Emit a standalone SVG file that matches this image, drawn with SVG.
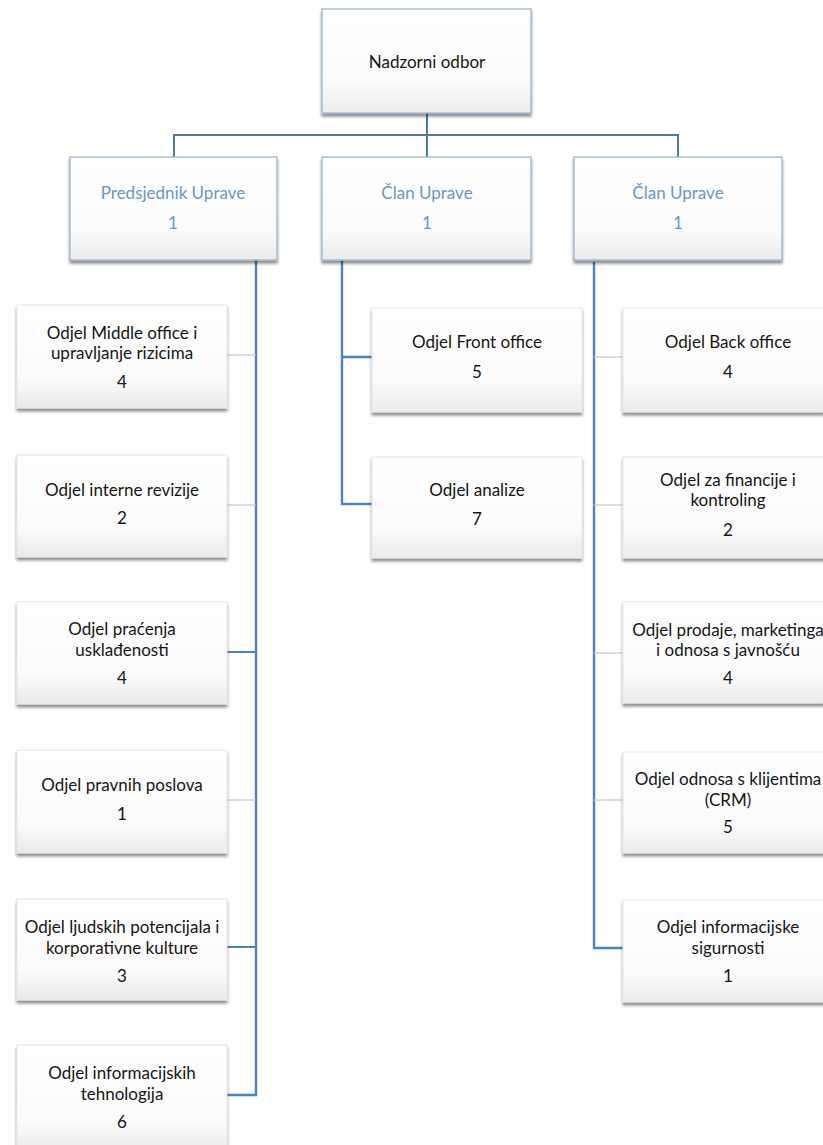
<svg xmlns="http://www.w3.org/2000/svg" width="823" height="1145" viewBox="0 0 823 1145">
<defs>
<linearGradient id="g" x1="0" y1="0" x2="0" y2="1">
<stop offset="0" stop-color="#ffffff"/>
<stop offset="0.7" stop-color="#fbfbfb"/>
<stop offset="1" stop-color="#ebebeb"/>
</linearGradient>
<filter id="sh" x="-10%" y="-10%" width="125%" height="130%">
<feGaussianBlur in="SourceAlpha" stdDeviation="1.6"/>
<feOffset dx="0" dy="2.5" result="b"/>
<feComponentTransfer><feFuncA type="linear" slope="0.45"/></feComponentTransfer>
<feMerge><feMergeNode/><feMergeNode in="SourceGraphic"/></feMerge>
</filter>
<style>
.box{fill:url(#g);filter:url(#sh);stroke:#e6e6e6;stroke-width:1}
.lvl{fill:url(#g);filter:url(#sh);stroke:#9fb6cc;stroke-width:1.3}
.t{font-family:Lato,"Liberation Sans",sans-serif;font-size:17px;fill:#151515;text-anchor:middle}
.b{font-family:Lato,"Liberation Sans",sans-serif;font-size:17px;fill:#6b98c0;text-anchor:middle}
.main{fill:none;stroke:#4a82bf;stroke-width:2.4}
.top{fill:none;stroke:#4c7aa3;stroke-width:2}
.thin{fill:none;stroke:#a8c0da;stroke-width:1}
</style>
</defs>
<rect width="823" height="1145" fill="#ffffff"/>
<g id="connectors">
<path class="top" d="M427 113 V157 M174 157 V135 H678 V157"/>
<path class="main" d="M256 260 V1095 H227"/>
<path class="main" d="M342 260 V504 H372 M342 357 H372"/>
<path class="main" d="M594 262 V948 H623"/>
<path class="thin" d="M227 355 H256 M227 505 H256 M227 800 H256 M593 357 H623 M593 505 H623 M593 653 H623 M593 800 H623"/>
<path class="main" style="stroke-width:1.8" d="M227 652 H256 M227 947 H256"/>
</g>
<g id="n-nadzorni"><rect class="lvl" x="322" y="9" width="209" height="104"/><text class="t" x="427" y="68">Nadzorni odbor</text></g>
<g id="n-predsjednik"><rect class="lvl" x="70" y="157" width="207" height="103"/><text class="b" x="173" y="199">Predsjednik Uprave</text><text class="b" x="173" y="229">1</text></g>
<g id="n-clan1"><rect class="lvl" x="322" y="157" width="209" height="103"/><text class="b" x="427" y="199">Član Uprave</text><text class="b" x="427" y="229">1</text></g>
<g id="n-clan2"><rect class="lvl" x="574" y="157" width="208" height="103"/><text class="b" x="678" y="199">Član Uprave</text><text class="b" x="678" y="229">1</text></g>

<g id="n-middle"><rect class="box" x="17" y="305" width="210" height="103"/><text class="t" x="122" y="339">Odjel Middle office i</text><text class="t" x="122" y="359">upravljanje rizicima</text><text class="t" x="122" y="388">4</text></g>
<g id="n-revizija"><rect class="box" x="17" y="455" width="210" height="102"/><text class="t" x="122" y="496">Odjel interne revizije</text><text class="t" x="122" y="524">2</text></g>
<g id="n-uskladenost"><rect class="box" x="17" y="602" width="210" height="102"/><text class="t" x="122" y="635">Odjel praćenja</text><text class="t" x="122" y="656">usklađenosti</text><text class="t" x="122" y="684">4</text></g>
<g id="n-pravni"><rect class="box" x="17" y="750" width="210" height="103"/><text class="t" x="122" y="791">Odjel pravnih poslova</text><text class="t" x="122" y="820">1</text></g>
<g id="n-ljudski"><rect class="box" x="17" y="899" width="210" height="101"/><text class="t" x="122" y="933">Odjel ljudskih potencijala i</text><text class="t" x="122" y="954">korporativne kulture</text><text class="t" x="122" y="982">3</text></g>
<g id="n-it"><rect class="box" x="17" y="1045" width="210" height="108"/><text class="t" x="122" y="1079">Odjel informacijskih</text><text class="t" x="122" y="1100">tehnologija</text><text class="t" x="122" y="1128">6</text></g>

<g id="n-front"><rect class="box" x="372" y="308" width="210" height="104"/><text class="t" x="477" y="348">Odjel Front office</text><text class="t" x="477" y="378">5</text></g>
<g id="n-analize"><rect class="box" x="372" y="457" width="210" height="101"/><text class="t" x="477" y="496">Odjel analize</text><text class="t" x="477" y="525">7</text></g>

<g id="n-back"><rect class="box" x="623" y="308" width="210" height="104"/><text class="t" x="728" y="348">Odjel Back office</text><text class="t" x="728" y="378">4</text></g>
<g id="n-financije"><rect class="box" x="623" y="457" width="210" height="101"/><text class="t" x="728" y="486">Odjel za financije i</text><text class="t" x="728" y="506">kontroling</text><text class="t" x="728" y="536">2</text></g>
<g id="n-prodaja"><rect class="box" x="623" y="602" width="210" height="101"/><text class="t" x="728" y="636">Odjel prodaje, marketinga</text><text class="t" x="728" y="656">i odnosa s javnošću</text><text class="t" x="728" y="684">4</text></g>
<g id="n-crm"><rect class="box" x="623" y="752" width="210" height="101"/><text class="t" x="728" y="785">Odjel odnosa s klijentima</text><text class="t" x="728" y="806">(CRM)</text><text class="t" x="728" y="833">5</text></g>
<g id="n-sigurnost"><rect class="box" x="623" y="900" width="210" height="102"/><text class="t" x="728" y="933">Odjel informacijske</text><text class="t" x="728" y="954">sigurnosti</text><text class="t" x="728" y="982">1</text></g>
</svg>
